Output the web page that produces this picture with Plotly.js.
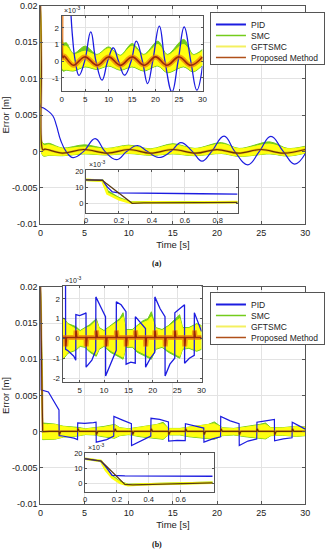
<!DOCTYPE html>
<html><head><meta charset="utf-8">
<script src="https://cdn.plot.ly/plotly-3.0.1.min.js"></script>
<style>html,body{margin:0;padding:0;background:#fff}#plot{width:325px;height:550px}</style>
</head><body><div id="plot"></div>
<script>
// ---------- DATA (errors in units of 1e-3 m, time in s) ----------
// Panel (a)
var tPidA  = [0, 0.05, 0.3, 0.8, 1.4, 1.8, 2.3, 2.9, 3.7, 4.9, 6.2, 7.3, 8.6, 9.8, 11.0, 12.1, 13.4, 14.8, 15.9, 17.2, 18.3, 19.4, 20.8, 22.0, 23.5, 24.8, 26.1, 27.5, 28.8, 30];
var pidA   = [20, 6.1, 6.0, 5.6, 4.9, 3.6, 1.5, 0, -0.86, 0, 1.75, 0, -1.15, 0, 0.8, 0, -0.85, 0, 1.2, 0, -1.35, 0, 2.1, 0, -1.85, 0, 2.05, 0, -1.75, -0.3];
var tBandA = [0, 0.1, 0.28, 1, 2.5, 5, 7.5, 10, 12.5, 15, 17.5, 20.5, 22.5, 26, 28, 30];
var smcUpA = [20, 14, 1.1, 1.1, 0.45, 0.9, 0.4, 0.85, 0.35, 1.05, 0.4, 1.2, 0.4, 1.3, 0.4, 0.7];
var smcLoA = [20, 14, -0.6, -0.55, -0.6, -0.35, -0.5, -0.3, -0.55, -0.35, -0.6, -0.3, -0.7, -0.35, -0.65, -0.25];
var gftUpA = [20, 13, 0.9, 0.9, 0.4, 0.6, 0.35, 0.75, 0.3, 0.9, 0.35, 1.0, 0.35, 1.0, 0.35, 0.6];
var gftLoA = [20, 13, -0.5, -0.5, -0.55, -0.3, -0.45, -0.25, -0.5, -0.3, -0.55, -0.25, -0.65, -0.3, -0.6, -0.2];
var tPropA = [0, 0.1, 0.28, 0.5, 2.5, 4.9, 7.6, 10, 12.5, 15, 17.6, 20, 22.4, 25, 27.5, 30];
var propA  = [20, 12, 0.2, 0.3, -0.25, 0.25, -0.25, 0.25, -0.25, 0.25, -0.25, 0.25, -0.25, 0.25, -0.25, 0.25];
// Panel (a) zoom inset, first second
var tPidZA  = [0, 0.1, 0.13, 0.16, 0.2, 0.3, 0.5, 0.7, 0.92];
var pidZA   = [14.5, 14.3, 10, 7, 6.5, 6.3, 6.1, 5.9, 5.7];
var tSmcZA  = [0, 0.1, 0.13, 0.2, 0.27, 0.4, 0.6, 0.8, 0.92];
var smcZA   = [14.5, 14, 7.5, 3.2, 0.5, 0.8, 0.7, 0.8, 0.8];
var gftZA   = [14.5, 14, 6, 2.5, 0.3, 0.6, 0.5, 0.6, 0.7];
var tPropZA = [0, 0.1, 0.12, 0.28, 0.35, 0.5, 0.7, 0.92];
var propZA  = [14.5, 14.2, 12.5, 0, 0.3, 0.5, 0.4, 0.5];

// Panel (b)
var tPidB = [0, 0.05, 0.9, 1.8, 2.1, 2.12, 2.5, 3.8, 4.2, 4.22, 5.0, 6.0, 6.3, 6.32, 7.5, 8.3, 8.32, 9.3, 10.3, 10.32, 11.5, 12.5, 12.52, 13.5, 14.5, 14.52, 15.5, 16.4, 16.42, 17.5, 18.5, 18.52, 19.5, 20.4, 20.42, 21.5, 22.5, 22.52, 23.5, 24.5, 24.52, 25.5, 26.5, 26.52, 27.5, 28.5, 28.52, 29.3, 30];
var pidB  = [20, 5.8, 5.5, 3.7, 3.0, -0.55, -0.6, -0.9, -1.1, 1.2, 1.15, 1.25, 1.3, -1.45, -1.1, -0.6, 2.1, 1.6, 1.1, -1.9, -1.2, -0.6, 1.85, 1.7, 1.35, -1.3, -1.2, -1.25, 1.1, 0.8, 0.5, -1.45, -1.0, -0.7, 2.1, 1.5, 1.1, -1.9, -1.3, -1.0, 1.3, 1.5, 1.7, -1.25, -1.0, -0.85, 1.3, 0.8, 0.35];
var tBandB = [0, 0.1, 0.25, 0.8, 1.6, 2.6, 4.2, 5.1, 6.1, 7.1, 8.4, 9.0, 10.0, 11.3, 13.2, 13.9, 14.5, 15.8, 16.8, 18.0, 19.0, 19.7, 20.6, 21.9, 23.2, 24.8, 25.5, 26.1, 27.4, 29.0, 30];
var smcUpB = [20, 15, 1.2, 1.1, 1.05, 0.75, 0.6, 0.4, 0.55, 0.7, 1.0, 0.55, 0.4, 0.65, 1.0, 1.3, 0.45, 0.45, 0.65, 0.9, 1.0, 1.35, 0.55, 0.45, 0.65, 1.0, 1.2, 0.55, 0.55, 0.75, 0.65];
var smcLoB = [20, 15, -1.1, -1.05, -1.05, -0.75, -0.6, -0.4, -0.45, -0.7, -0.9, -0.55, -0.4, -0.7, -0.95, -1.05, -0.45, -0.45, -0.7, -0.85, -0.95, -1.05, -0.55, -0.45, -0.7, -0.9, -1.0, -0.55, -0.5, -0.65, -0.55];
var gftUpB = [20, 14, 1.0, 1.0, 1.0, 0.7, 0.5, 0.35, 0.5, 0.6, 0.9, 0.5, 0.35, 0.6, 0.9, 1.1, 0.4, 0.4, 0.6, 0.8, 0.9, 1.1, 0.5, 0.4, 0.6, 0.9, 1.0, 0.5, 0.5, 0.7, 0.6];
var gftLoB = [20, 14, -1.0, -1.0, -1.0, -0.7, -0.55, -0.35, -0.4, -0.6, -0.8, -0.5, -0.35, -0.6, -0.85, -0.95, -0.4, -0.4, -0.6, -0.75, -0.85, -0.95, -0.5, -0.4, -0.6, -0.8, -0.9, -0.5, -0.45, -0.6, -0.5];
var tPropB = [0, 0.1, 0.25, 1, 2.1, 2.15, 2.3, 4.2, 4.25, 4.4, 6.3, 6.35, 6.5, 8.4, 8.45, 8.6, 10.4, 10.45, 10.6, 12.5, 12.55, 12.7, 14.5, 14.55, 14.7, 16.4, 16.45, 16.6, 18.5, 18.55, 18.7, 20.4, 20.45, 20.6, 22.5, 22.55, 22.7, 24.5, 24.55, 24.7, 26.5, 26.55, 26.7, 28.5, 28.55, 28.7, 30];
var propB  = [20, 14, 0, 0.05, 0.05, -0.4, 0.05, 0.05, 0.4, 0.05, 0.05, -0.4, 0.05, 0.05, 0.4, 0.05, 0.05, -0.4, 0.05, 0.05, 0.4, 0.05, 0.05, -0.4, 0.05, 0.05, 0.4, 0.05, 0.05, -0.4, 0.05, 0.05, 0.4, 0.05, 0.05, -0.4, 0.05, 0.05, 0.4, 0.05, 0.05, -0.4, 0.05, 0.05, 0.4, 0.05, 0.05];
// Panel (b) zoom inset
var tPidZB  = [0, 0.1, 0.14, 0.17, 0.25, 0.4, 0.6, 0.8];
var pidZB   = [16.5, 15, 10, 5.5, 5.2, 5.0, 4.9, 4.9];
var tSmcZB  = [0, 0.1, 0.13, 0.17, 0.22, 0.27, 0.35, 0.5, 0.8];
var smcZB   = [16.5, 15, 10, 5, 1.0, -0.8, -0.4, 0.1, 0.7];
var gftZB   = [16.5, 15, 9, 4, 0.5, -1.0, -0.5, 0, 0.6];
var tPropZB = [0, 0.1, 0.12, 0.25, 0.3, 0.45, 0.6, 0.8];
var propZB  = [16.5, 15, 13, -0.5, -0.8, -0.3, 0, 0.5];

var seriesNames = ['PID', 'SMC', 'GFTSMC', 'Proposed Method'];
var mainYTicks = [-0.01, -0.005, 0, 0.005, 0.01, 0.015, 0.02];
var mainYText  = ['-0.01', '-0.005', '0', '0.005', '0.01', '0.015', '0.02'];

// ---------- STYLE ----------
var C = {pid:'#1c1ce0', smc:'#74cc1c', gft:'#ffff10', prop:'#9a2808', propMain:'#6a3208',
         haze:'rgba(238,120,10,0.7)', hazeMain:'rgba(210,120,10,0.45)'};
var F = 'Liberation Sans, Arial, sans-serif';
function m(a){ return a.map(function(v){ return v/1000; }); }
function ident(a){ return a; }

var data = [];
function band(t, up, lo, color, xa, ya, conv, shape){
  data.push({x:t, y:conv(up), xaxis:xa, yaxis:ya, mode:'lines', showlegend:false,
    line:{color:color, width:1, shape:shape, smoothing:0.9}, hoverinfo:'skip'});
  data.push({x:t, y:conv(lo), xaxis:xa, yaxis:ya, mode:'lines', showlegend:false, fill:'tonexty', fillcolor:color,
    line:{color:color, width:1, shape:shape, smoothing:0.9}, hoverinfo:'skip'});
}
function line(t, v, color, w, xa, ya, conv, shape, sm){
  data.push({x:t, y:conv(v), xaxis:xa, yaxis:ya, mode:'lines', showlegend:false,
    line:{color:color, width:w, shape:shape, smoothing:sm || 1}, hoverinfo:'skip'});
}
function panelA(xa, ya, conv, main){
  band(tBandA, smcUpA, smcLoA, C.smc, xa, ya, conv, 'spline');
  band(tBandA, gftUpA, gftLoA, C.gft, xa, ya, conv, 'spline');
  line(tPidA, pidA, C.pid, main ? 1.2 : 1.3, xa, ya, conv, 'spline', 1.25);
  line(tPropA, propA, main ? C.hazeMain : C.haze, main ? 2.5 : 5, xa, ya, conv, 'spline', 1.1);
  line(tPropA, propA, main ? C.propMain : C.prop, main ? 1.2 : 1.6, xa, ya, conv, 'spline', 1.1);
}
function panelB(xa, ya, conv, main){
  band(tBandB, smcUpB, smcLoB, C.smc, xa, ya, conv, 'linear');
  band(tBandB, gftUpB, gftLoB, C.gft, xa, ya, conv, 'linear');
  line(tPidB, pidB, C.pid, main ? 1.2 : 1.3, xa, ya, conv, 'linear');
  line(tPropB, propB, main ? C.hazeMain : C.haze, main ? 2.5 : 5, xa, ya, conv, 'linear');
  line(tPropB, propB, main ? C.propMain : C.prop, main ? 1.2 : 1.6, xa, ya, conv, 'linear');
}
function zoomPanel(tP, p, tS, s, g, tR, r, xa, ya){
  line(tS, s, C.smc, 2.2, xa, ya, ident, 'linear');
  line(tS, g, C.gft, 2.6, xa, ya, ident, 'linear');
  line(tP, p, C.pid, 1.3, xa, ya, ident, 'linear');
  line(tR, r, '#5a3a10', 1.2, xa, ya, ident, 'linear');
}
panelA('x', 'y', m, true);
panelB('x2', 'y2', m, true);
panelA('x3', 'y3', ident, false);
zoomPanel(tPidZA, pidZA, tSmcZA, smcZA, gftZA, tPropZA, propZA, 'x4', 'y4');
panelB('x5', 'y5', ident, false);
zoomPanel(tPidZB, pidZB, tSmcZB, smcZB, gftZB, tPropZB, propZB, 'x6', 'y6');

// legend entries
var legCol = [C.pid, C.smc, '#f4f060', '#b0501a'];
var legW = [2, 1.5, 2, 1.5];
['legend', 'legend2'].forEach(function(lg, k){
  seriesNames.forEach(function(n, i){
    data.push({x:[null], y:[null], xaxis:k ? 'x2' : 'x', yaxis:k ? 'y2' : 'y', mode:'lines', name:n,
      legend:lg, legendrank:i + 1, line:{color:legCol[i], width:legW[i]}, showlegend:true});
  });
});

// ---------- LAYOUT ----------
function axBase(size){
  return {showline:true, linecolor:'#555', linewidth:1, mirror:'ticks', ticks:'inside', ticklen:3,
    tickcolor:'#555', showgrid:true, gridcolor:'#e3e3e3', gridwidth:1, zeroline:false,
    tickfont:{size:size, family:F, color:'#222'}, fixedrange:true};
}
function ax(extra, size){ var a = axBase(size); for (var k in extra) a[k] = extra[k]; return a; }
function leg(y){
  return {x:0.6708, y:y, xanchor:'left', yanchor:'top', bgcolor:'#fff', bordercolor:'#555', borderwidth:1,
    font:{size:8.5, family:F, color:'#222'}, itemwidth:30, tracegroupgap:0, traceorder:'normal'};
}
function expo(x, y){
  return {xref:'paper', yref:'paper', x:x, y:y, xanchor:'left', yanchor:'bottom', showarrow:false,
    text:'\u00d710<sup>-3</sup>', font:{size:7, family:F, color:'#222'}};
}

var layout = {
  width:325, height:550, margin:{l:0, r:0, t:0, b:0},
  paper_bgcolor:'#fff', plot_bgcolor:'#fff', font:{family:F, size:9, color:'#222'},
  showlegend:true,
  xaxis: ax({domain:[0.1292, 0.9754], anchor:'y', range:[0, 30], dtick:5, tick0:0,
    title:{text:'Time [s]', font:{size:9.5, family:F}, standoff:4}}, 9),
  yaxis: ax({domain:[0.5927, 0.9891], anchor:'x', range:[-0.01, 0.02], tickvals:mainYTicks, ticktext:mainYText,
    title:{text:'Error [m]', font:{size:9.5, family:F}, standoff:4}}, 9),
  xaxis2: ax({domain:[0.1292, 0.9754], anchor:'y2', range:[0, 30], dtick:5, tick0:0,
    title:{text:'Time [s]', font:{size:9.5, family:F}, standoff:4}}, 9),
  yaxis2: ax({domain:[0.0836, 0.4782], anchor:'x2', range:[-0.01, 0.02], tickvals:mainYTicks, ticktext:mainYText,
    title:{text:'Error [m]', font:{size:9.5, family:F}, standoff:4}}, 9),
  xaxis3: ax({domain:[0.197, 0.647], anchor:'y3', range:[0, 30], dtick:5, tick0:0, ticklen:2}, 8),
  yaxis3: ax({domain:[0.8345, 0.9715], anchor:'x3', range:[-1.8, 2.73], tickvals:[-1, 0, 1, 2], ticktext:['-1', '0', '1', '2'], ticklen:2}, 8),
  xaxis4: ax({domain:[0.2748, 0.759], anchor:'y4', range:[0, 0.92], tickvals:[0, 0.2, 0.4, 0.6, 0.8], ticktext:['0', '0.2', '0.4', '0.6', '0.8'], ticklen:2}, 7.5),
  yaxis4: ax({domain:[0.6122, 0.6909], anchor:'x4', range:[-6.2, 20.6], tickvals:[0, 10, 20], ticktext:['0', '10', '20'], ticklen:2}, 7.5),
  xaxis5: ax({domain:[0.2, 0.644], anchor:'y5', range:[1.5, 30], tickvals:[5, 10, 15, 20, 25, 30], ticktext:['5', '10', '15', '20', '25', '30'], ticklen:2}, 8),
  yaxis5: ax({domain:[0.3055, 0.48], anchor:'x5', range:[-2.2, 2.65], tickvals:[-2, -1, 0, 1, 2], ticktext:['-2', '-1', '0', '1', '2'], ticklen:2}, 8),
  xaxis6: ax({domain:[0.2717, 0.684], anchor:'y6', range:[0, 0.81], tickvals:[0, 0.2, 0.4, 0.6], ticktext:['0', '0.2', '0.4', '0.6'], ticklen:2}, 7.5),
  yaxis6: ax({domain:[0.1055, 0.1769], anchor:'x6', range:[-5.5, 20.5], tickvals:[0, 10, 20], ticktext:['0', '10', '20'], ticklen:2}, 7.5),
  legend: leg(0.9782),
  legend2: leg(0.4691),
  annotations: [
    expo(0.199, 0.9715), expo(0.2768, 0.6909), expo(0.202, 0.48), expo(0.2737, 0.1769),
    {xref:'paper', yref:'paper', x:0.5, y:1 - 263/550, xanchor:'center', yanchor:'middle', showarrow:false, text:'<b>(a)</b>', font:{size:8, family:'Liberation Serif, serif', color:'#111'}},
    {xref:'paper', yref:'paper', x:0.5, y:1 - 544/550, xanchor:'center', yanchor:'middle', showarrow:false, text:'<b>(b)</b>', font:{size:8, family:'Liberation Serif, serif', color:'#111'}}
  ]
};

Plotly.newPlot('plot', data, layout, {staticPlot:true, displayModeBar:false}).then(function(gd){
  try {
    ['legend', 'legend2'].forEach(function(id){
      var g = gd.querySelector('g.' + id);
      if (!g) return;
      var items = g.querySelectorAll('g.traces');
      if (!items.length) return;
      var re = /translate\(\s*([-\d.e]+)[ ,]+([-\d.e]+)\s*\)/;
      var m0 = re.exec(items[0].getAttribute('transform') || '');
      if (!m0) return;
      var x0 = +m0[1], y0 = +m0[2] - 3, step = 11;
      for (var i = 0; i < items.length; i++) {
        items[i].setAttribute('transform', 'translate(' + x0 + ',' + (y0 + i * step) + ')');
      }
      var bg = g.querySelector('rect.bg');
      if (bg) bg.setAttribute('height', y0 + (items.length - 1) * step + 7);
    });
  } catch (e) {}
});
</script>
</body></html>
